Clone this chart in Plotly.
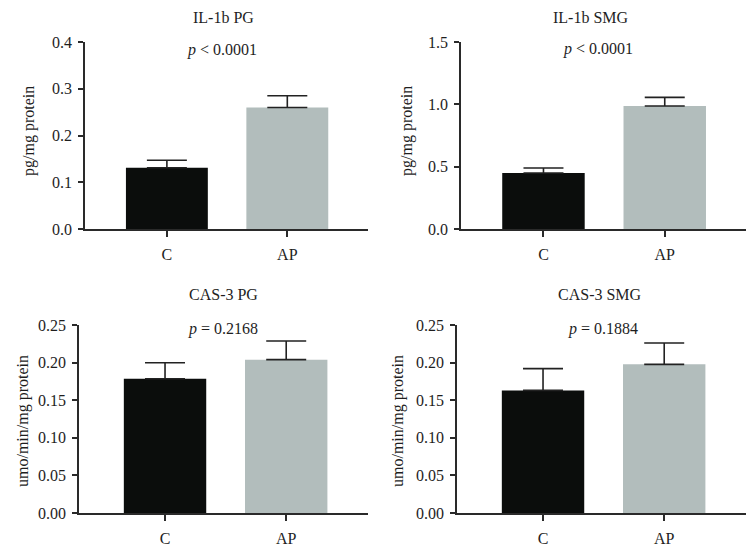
import plotly.graph_objects as go

categories = ["C", "AP"]

titles = ["IL-1b PG", "IL-1b SMG", "CAS-3 PG", "CAS-3 SMG"]
p_texts = ["<i>p</i> &lt; 0.0001", "<i>p</i> &lt; 0.0001", "<i>p</i> = 0.2168", "<i>p</i> = 0.1884"]
y_titles = ["pg/mg protein", "pg/mg protein", "umo/min/mg protein", "umo/min/mg protein"]

il1b_pg_mean = [0.131, 0.260]
il1b_pg_err = [0.016, 0.025]
il1b_smg_mean = [0.449, 0.987]
il1b_smg_err = [0.040, 0.069]
cas3_pg_mean = [0.1786, 0.2039]
cas3_pg_err = [0.0213, 0.0248]
cas3_smg_mean = [0.163, 0.1977]
cas3_smg_err = [0.029, 0.0283]

y_ranges = [[0, 0.4], [0, 1.5], [0, 0.25], [0, 0.25]]
y_ticks = [
    [0, 0.1, 0.2, 0.3, 0.4],
    [0, 0.5, 1.0, 1.5],
    [0, 0.05, 0.10, 0.15, 0.20, 0.25],
    [0, 0.05, 0.10, 0.15, 0.20, 0.25],
]
y_ticktext = [
    ["0.0", "0.1", "0.2", "0.3", "0.4"],
    ["0.0", "0.5", "1.0", "1.5"],
    ["0.00", "0.05", "0.10", "0.15", "0.20", "0.25"],
    ["0.00", "0.05", "0.10", "0.15", "0.20", "0.25"],
]

means = [il1b_pg_mean, il1b_smg_mean, cas3_pg_mean, cas3_smg_mean]
errs = [il1b_pg_err, il1b_smg_err, cas3_pg_err, cas3_smg_err]

# page has an 8px body margin; figure sized to fill the rest of the window
OFF = 8
W, H = 756 - OFF, 548 - OFF


def fx(px):
    return (px - OFF) / W


def fy(py):
    return 1 - (py - OFF) / H


# pixel layout of each panel in window coordinates: (x0, x1, ytop, ybottom)
panels = [(85, 368, 42, 229), (461, 746, 42, 229), (79, 368, 325, 513), (457, 746, 325, 513)]
x_ranges = [[-0.68, 1.67], [-0.68, 1.67], [-0.71, 1.675], [-0.71, 1.675]]
title_pos = [(223, 17), (591, 17), (223, 294), (600, 294)]
p_pos = [(222, 50), (598, 49), (223, 329), (603, 329)]
ytitle_pos = [(29, 131), (407, 131), (23, 421), (398, 421)]

bar_colors = ["#0b0d0c", "#b2bdbc"]
font_family = "Liberation Serif, Times New Roman, serif"
axis_color = "#2a2a2a"
text_color = "#1e1e1e"

fig = go.Figure()
annotations = []
for i in range(4):
    sfx = "" if i == 0 else str(i + 1)
    fig.add_trace(go.Bar(
        x=categories, y=means[i],
        marker=dict(color=bar_colors, line=dict(width=0)),
        width=0.68,
        error_y=dict(type="data", array=errs[i], arrayminus=[0, 0], symmetric=False,
                     color="#222222", thickness=1.6, width=20),
        xaxis="x" + sfx, yaxis="y" + sfx, showlegend=False,
    ))
    x0, x1, yt, yb = panels[i]
    fig.update_layout(**{
        "xaxis" + sfx: dict(
            domain=[fx(x0), fx(x1)], range=x_ranges[i], anchor="y" + sfx,
            showline=True, linecolor=axis_color, linewidth=1.5,
            ticks="outside", ticklen=6, tickwidth=1.5, tickcolor=axis_color,
            showgrid=False, zeroline=False, automargin=False,
            ticklabelstandoff=4,
            tickfont=dict(family=font_family, size=16, color=text_color),
        ),
        "yaxis" + sfx: dict(
            domain=[fy(yb), fy(yt)], range=y_ranges[i], anchor="x" + sfx,
            showline=True, linecolor=axis_color, linewidth=1.5,
            ticks="outside", ticklen=5, tickwidth=1.5, tickcolor=axis_color,
            tickvals=y_ticks[i], ticktext=y_ticktext[i],
            showgrid=False, zeroline=False, automargin=False,
            ticklabelstandoff=3,
            tickfont=dict(family=font_family, size=16, color=text_color),
        ),
    })
    tx, ty = title_pos[i]
    annotations.append(dict(x=fx(tx), y=fy(ty), xref="paper", yref="paper",
                            text=titles[i], showarrow=False, xanchor="center", yanchor="middle",
                            font=dict(family=font_family, size=16, color=text_color)))
    px, py = p_pos[i]
    annotations.append(dict(x=fx(px), y=fy(py), xref="paper", yref="paper",
                            text=p_texts[i], showarrow=False, xanchor="center", yanchor="middle",
                            font=dict(family=font_family, size=16, color=text_color)))
    yx, yy = ytitle_pos[i]
    annotations.append(dict(x=fx(yx), y=fy(yy), xref="paper", yref="paper",
                            text=y_titles[i], showarrow=False, textangle=-90,
                            xanchor="center", yanchor="middle",
                            font=dict(family=font_family, size=16, color=text_color)))

fig.update_layout(
    template="none",
    width=W, height=H,
    margin=dict(l=0, r=0, t=0, b=0, autoexpand=False),
    paper_bgcolor="white", plot_bgcolor="white",
    annotations=annotations,
)

fig.write_html("out.html")
